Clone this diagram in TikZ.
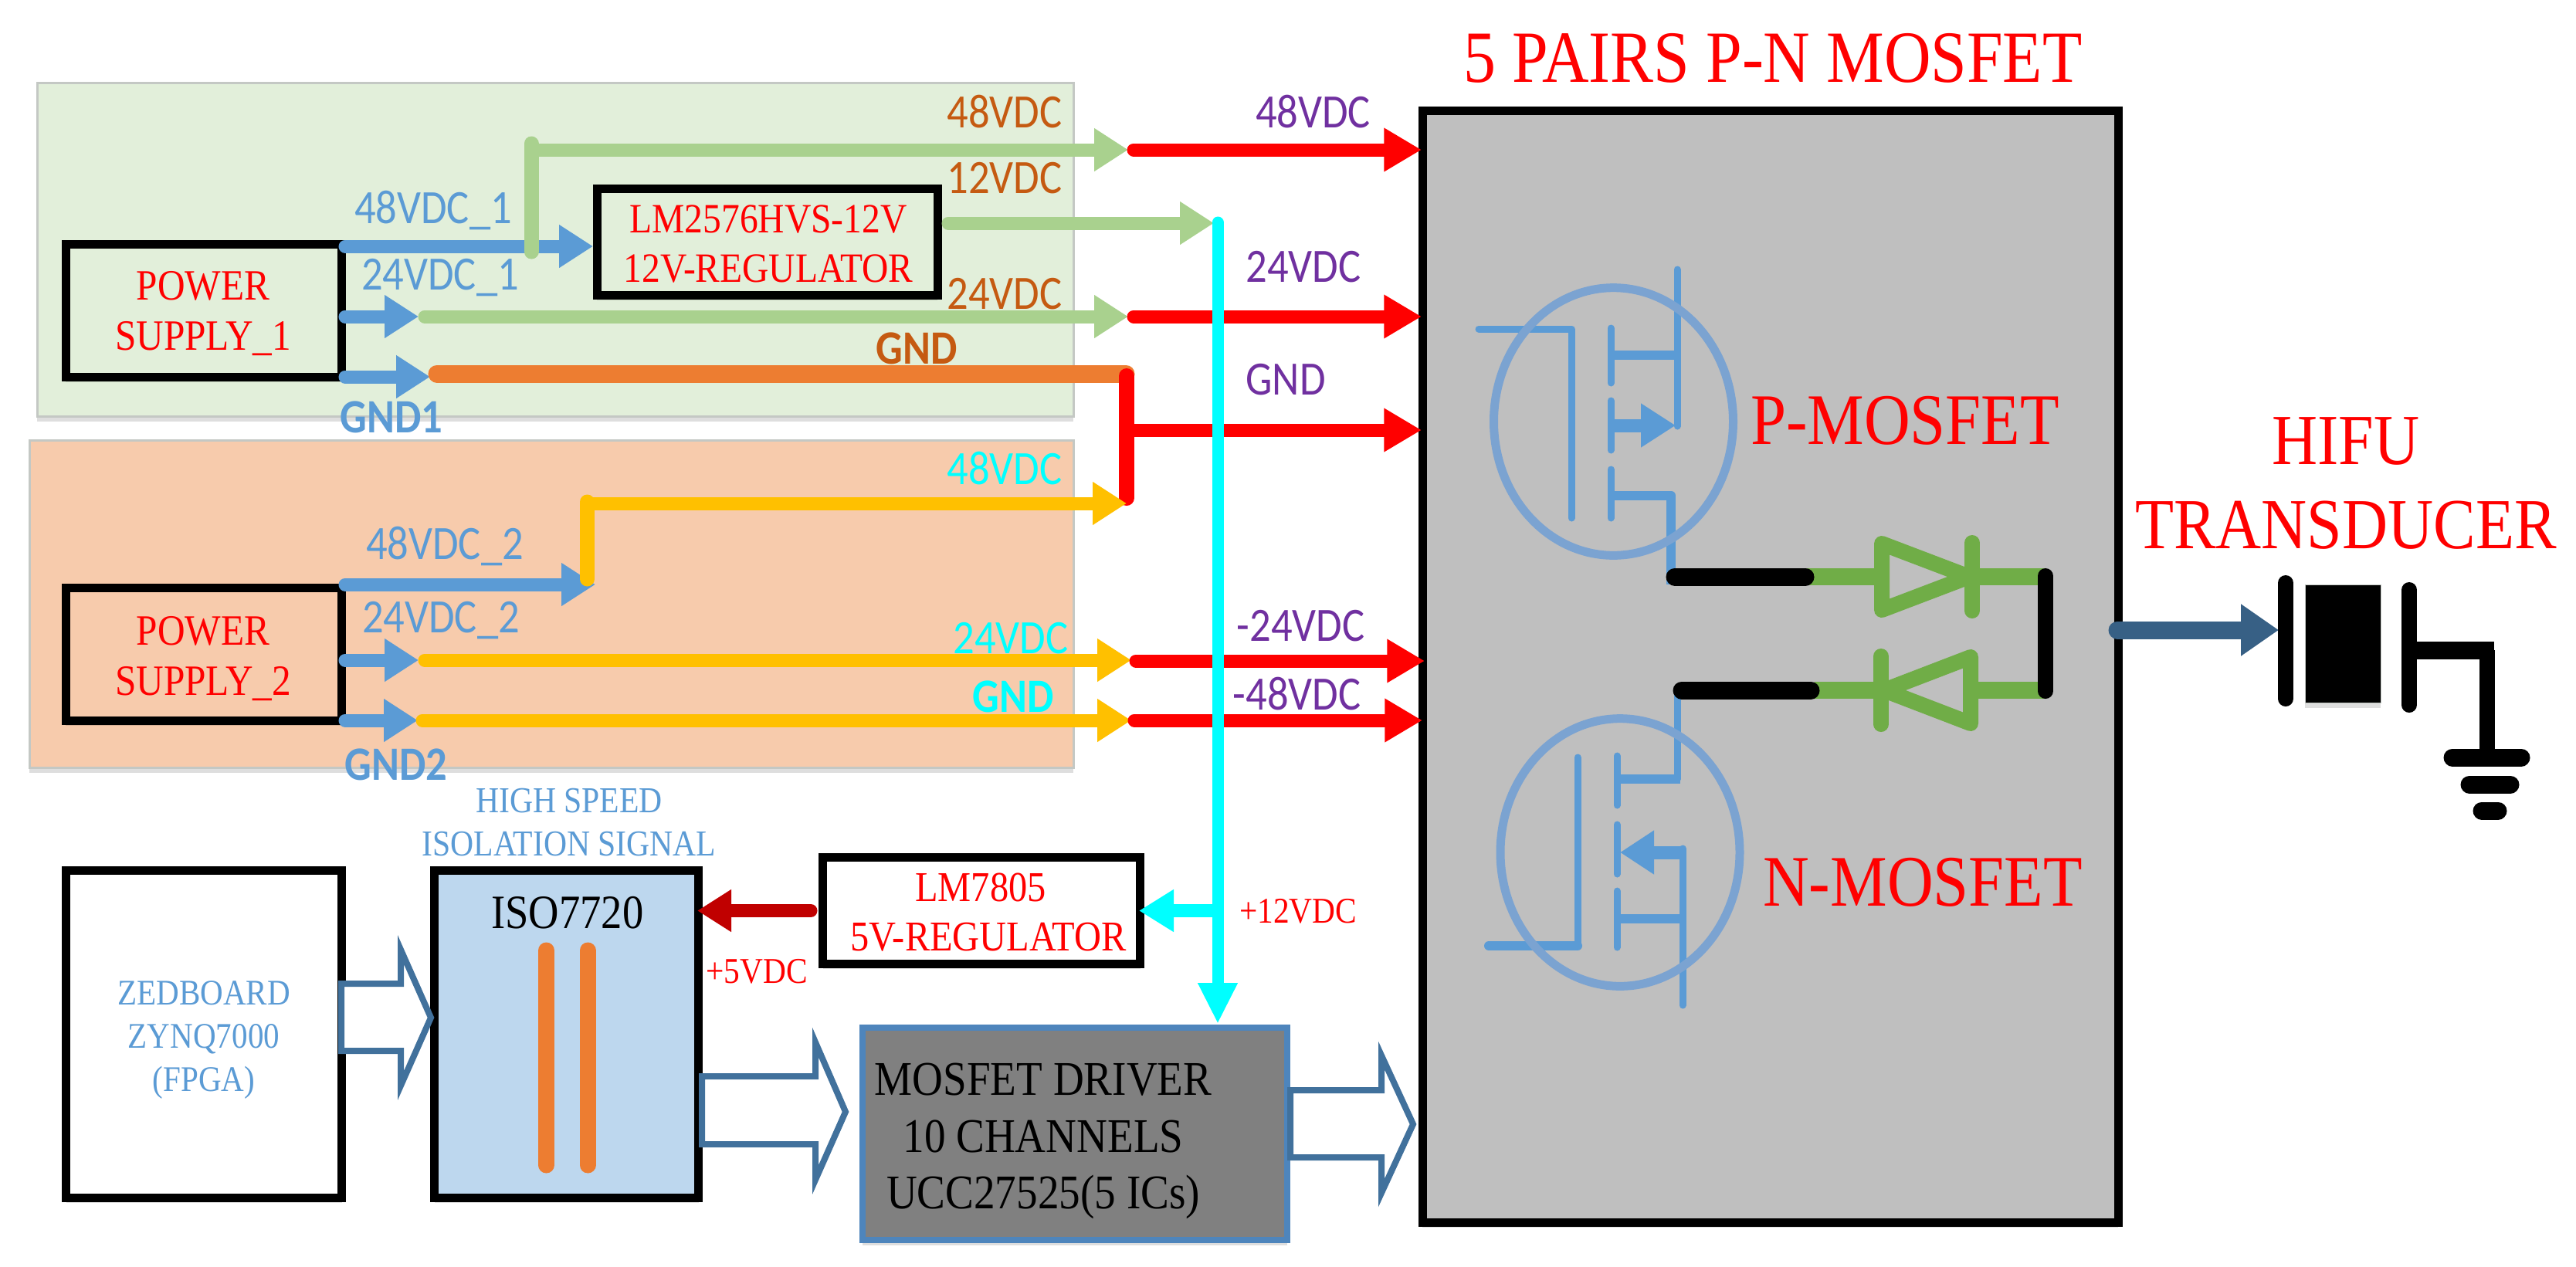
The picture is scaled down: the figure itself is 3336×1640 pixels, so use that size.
\documentclass[tikz,border=0pt]{standalone}
\usepackage{fontspec}
\setmainfont{Liberation Serif}
\newfontfamily\crl{Carlito}
\usetikzlibrary{arrows.meta,shadows,shapes.geometric}
\definecolor{cblue}{HTML}{5B9BD5}
\definecolor{cgreen}{HTML}{A9D18E}
\definecolor{dgreen}{HTML}{70AD47}
\definecolor{corange}{HTML}{ED7D31}
\definecolor{cyellow}{HTML}{FFC000}
\definecolor{pgreen}{HTML}{E2EFDA}
\definecolor{porange}{HTML}{F7CBAC}
\definecolor{pborder}{HTML}{C4C8C4}
\definecolor{cbrown}{HTML}{C55A11}
\definecolor{cpurple}{HTML}{7030A0}
\definecolor{steel}{HTML}{41719C}
\definecolor{fetring}{HTML}{7BA3D1}
\definecolor{isofill}{HTML}{BDD7EE}
\definecolor{drvborder}{HTML}{4E85BC}
\definecolor{ccyan}{HTML}{00FFFF}
\definecolor{cred}{HTML}{FF0000}
\definecolor{dred}{HTML}{C00000}
\def\u{0.3pt}
\tikzset{
  shad/.style={drop shadow={shadow xshift=0pt,shadow yshift=-2pt,fill=black,opacity=.13}},
  panel/.style={draw=pborder,line width=3*\u,inner sep=0pt,shad},
  box/.style={draw=black,line width=11*\u,inner sep=0pt,shad},
  txt/.style={xscale=.88,transform shape,inner sep=0pt,anchor=base,yshift={-0.33*#1pt},
    font=\fontsize{#1pt}{#1pt}\selectfont},
  ctxt/.style={xscale=.88,transform shape,inner sep=0pt,anchor=base,yshift={-0.32*#1pt},
    font=\crl\fontsize{#1pt}{#1pt}\selectfont},
  btxt/.style={xscale=.88,transform shape,inner sep=0pt,anchor=base,yshift={-0.32*#1pt},
    font=\crl\bfseries\fontsize{#1pt}{#1pt}\selectfont},
  mtxt/.style 2 args={xscale=.88,transform shape,inner sep=0pt,align=center,
    font=\fontsize{#1pt}{#2pt}\selectfont},
  harr/.style={line cap=round,line width=17*\u,-{Triangle[length=13.2pt,width=15.9pt]}},
  rarr/.style={line cap=round,line width=17*\u,cred,-{Triangle[length=14.6pt,width=16pt]}},
  trunk/.style={line cap=round,line width=19*\u},
  hollow/.style={draw=steel,fill=white,line width=8*\u,line join=miter},
  fet/.style={cblue,line width=9*\u,line cap=round},
  fetb/.style={cblue,line width=12*\u,line cap=round},
  ring/.style={ellipse,draw=fetring,line width=11*\u,inner sep=0pt,minimum width=93pt,minimum height=104pt},
  dio/.style={dgreen,line width=20*\u,line cap=round,line join=round},
  dio2/.style={dgreen,line width=22*\u},
  blk/.style={black,line width=23*\u,line cap=round},
  blk2/.style={black,line width=20*\u,line cap=round},
}
\begin{document}
\begin{tikzpicture}[x=0.3pt,y=-0.3pt]
\useasboundingbox (0,0) rectangle (3336,1640);
\fill[white] (0,0) rectangle (3336,1640);

% panels
\node (pan1) [panel,fill=pgreen,minimum width=1342*\u,minimum height=432*\u] at (719,323.5) {};
\node (pan2) [panel,fill=porange,minimum width=1352*\u,minimum height=424*\u] at (714,782) {};

% boxes
\node (ps1) [box,fill=pgreen,minimum width=357*\u,minimum height=172*\u] at (263.5,402) {};
\node (ps2) [box,fill=porange,minimum width=357*\u,minimum height=172*\u] at (263.5,847) {};
\node (reg12) [box,fill=pgreen,minimum width=441*\u,minimum height=138*\u] at (993.5,313) {};
\node (zed) [box,fill=white,minimum width=357*\u,minimum height=424*\u] at (264,1339.5) {};
\node (iso) [box,fill=isofill,minimum width=342*\u,minimum height=424*\u] at (733.5,1339.5) {};
\node (reg5) [box,fill=white,minimum width=411*\u,minimum height=138*\u] at (1271,1179.5) {};
\node (drv) [draw=drvborder,line width=8*\u,fill=black!50,inner sep=0pt,shad,minimum width=550*\u,minimum height=275*\u] at (1392,1468.5) {};
\node (mos) [box,fill=black!25,minimum width=901*\u,minimum height=1440*\u] at (2292.5,863) {};

% coordinates of the power rails
\coordinate (a1s) at (447,319);   \coordinate (a1e) at (768,319);
\coordinate (g48t) at (688,186);  \coordinate (g48b) at (688,326);
\coordinate (g48s) at (688,194);  \coordinate (g48e) at (1461,194);
\coordinate (g12s) at (1228,289); \coordinate (g12e) at (1572,289);
\coordinate (a2s) at (447,410);   \coordinate (a2e) at (542,410);
\coordinate (g24s) at (550,410);  \coordinate (g24e) at (1461,410);
\coordinate (a3s) at (447,488);   \coordinate (a3e) at (557,488);
\coordinate (ors) at (566,484);   \coordinate (ore) at (1458,484);
\coordinate (b1s) at (447,757);   \coordinate (b1e) at (771,757);
\coordinate (y48t) at (760.5,650);\coordinate (y48b) at (760.5,750);
\coordinate (y48s) at (760.5,652);\coordinate (y48e) at (1459,652);
\coordinate (b2s) at (447,855);   \coordinate (b2e) at (542,855);
\coordinate (y24s) at (550,855);  \coordinate (y24e) at (1465,855);
\coordinate (b3s) at (447,933);   \coordinate (b3e) at (541,933);
\coordinate (ygs) at (547,933);   \coordinate (yge) at (1465,933);
\coordinate (rv1) at (1459,487);  \coordinate (rv2) at (1459,645);
\coordinate (rj) at (1459,557);   \coordinate (rje) at (1841,557);
\coordinate (r48s) at (1468,194); \coordinate (r48e) at (1841,194);
\coordinate (r24s) at (1468,410); \coordinate (r24e) at (1841,410);
\coordinate (rm24s) at (1471,856);\coordinate (rm24e) at (1845,856);
\coordinate (rm48s) at (1469,933);\coordinate (rm48e) at (1842,933);
\coordinate (cy1) at (1577,288);  \coordinate (cy2) at (1577,1326);
\coordinate (cyj) at (1577,1179.5);\coordinate (cyl) at (1475,1179.5);
\coordinate (drs) at (1050,1179.5);\coordinate (dre) at (903,1179.5);

% blue feeds
\draw[harr,cblue] (a1s) -- (a1e);
\draw[harr,cblue] (a2s) -- (a2e);
\draw[harr,cblue] (a3s) -- (a3e);
\draw[harr,cblue] (b1s) -- (b1e);
\draw[harr,cblue] (b2s) -- (b2e);
\draw[harr,cblue] (b3s) -- (b3e);
% green
\draw[trunk,cgreen] (g48t) -- (g48b);
\draw[harr,cgreen,line cap=butt] (g48s) -- (g48e);
\draw[harr,cgreen] (g12s) -- (g12e);
\draw[harr,cgreen] (g24s) -- (g24e);
% orange + red elbow
\draw[corange,line width=23*\u,line cap=round] (ors) -- (ore);
\draw[trunk,cred,line width=20*\u] (rv1) -- (rv2);
\draw[rarr,line cap=butt] (rj) -- (rje);
% yellow
\draw[trunk,cyellow] (y48t) -- (y48b);
\draw[harr,cyellow,line cap=butt] (y48s) -- (y48e);
\draw[harr,cyellow] (y24s) -- (y24e);
\draw[harr,cyellow] (ygs) -- (yge);
% red rails
\draw[rarr] (r48s) -- (r48e);
\draw[rarr] (r24s) -- (r24e);
\draw[rarr] (rm24s) -- (rm24e);
\draw[rarr] (rm48s) -- (rm48e);
% cyan bus
\draw[ccyan,line width=15*\u,line cap=round,-{Triangle[length=15.9pt,width=14.4pt]}] (cy1) -- (cy2);
\draw[ccyan,line width=17*\u,-{Triangle[length=13.5pt,width=15.6pt]}] (cyj) -- (cyl);
\draw[line width=17*\u,dred,line cap=round,-{Triangle[length=13.2pt,width=15.6pt]}] (drs) -- (dre);

% isolation barrier
\coordinate (b1t) at (707.5,1231); \coordinate (b1b) at (707.5,1509);
\coordinate (b2t) at (761,1231);   \coordinate (b2b) at (761,1509);
\draw[corange,line width=21*\u,line cap=round] (b1t) -- (b1b);
\draw[corange,line width=21*\u,line cap=round] (b2t) -- (b2b);

% hollow arrows
\draw[hollow] (442,1274) -- (519,1274) -- (519,1230) -- (558,1318) -- (519,1406) -- (519,1361) -- (442,1361) -- cycle;
\draw[hollow] (909,1394) -- (1056,1394) -- (1056,1350) -- (1095,1440) -- (1056,1528) -- (1056,1482) -- (909,1482) -- cycle;
\draw[hollow] (1671,1412) -- (1789,1412) -- (1789,1367) -- (1830,1456) -- (1789,1545) -- (1789,1499) -- (1671,1499) -- cycle;

% P-MOSFET
\coordinate (pg1) at (1915,426); \coordinate (pg2) at (2035,426); \coordinate (pg3) at (2035,671);
\draw[fet,line join=round] (pg1) -- (pg2) -- (pg3);
\draw[fet] (2086,425) -- (2086,496);
\draw[fet] (2086,519) -- (2086,583);
\draw[fet] (2086,608) -- (2086,671);
\draw[fet] (2172,349) -- (2172,552);
\draw[fetb,line cap=butt] (2086,460) -- (2172,460);
\draw[cblue,line width=17*\u,-{Triangle[length=13.5pt,width=16.2pt]}] (2086,551) -- (2170,551);
\draw[fet,line width=12*\u,line join=round,line cap=butt] (2086,641.5) -- (2164,641.5) -- (2164,757);
\node (pfet) [ring] at (2089.5,546) {};

% N-MOSFET
\draw[fet,line join=round] (1928,1225) -- (2043,1225) -- (2043,981);
\draw[fetb,line cap=round] (1928,1225) -- (2043,1225);
\draw[fet] (2094,979) -- (2094,1043);
\draw[fet] (2094,1068) -- (2094,1132);
\draw[fet] (2094,1154) -- (2094,1227);
\draw[fet] (2172,900) -- (2172,1009);
\draw[fetb,line cap=butt] (2094,1009) -- (2176,1009);
\draw[fet] (2179,1099) -- (2179,1302);
\draw[cblue,line width=17*\u,-{Triangle[length=13.2pt,width=16.2pt]}] (2179,1104) -- (2098,1104);
\draw[fetb,line cap=butt] (2094,1190) -- (2183,1190);
\node (nfet) [ring] at (2098,1104) {};

% diodes
\draw[dio2] (2340,747) -- (2437,747);
\draw[dio2] (2554,747) -- (2648,747);
\draw[dio] (2437,704) -- (2550,747) -- (2437,790) -- cycle;
\draw[dio] (2554,703) -- (2554,791);
\draw[dio2] (2350,894) -- (2436,894);
\draw[dio2] (2552,894) -- (2648,894);
\draw[dio] (2552,851) -- (2440,894) -- (2552,937) -- cycle;
\draw[dio] (2436,850) -- (2436,938);
\draw[blk] (2169,747) -- (2338,747);
\draw[blk] (2178,894) -- (2345,894);
\draw[blk2] (2649,746) -- (2649,895);

% transducer
\coordinate (ts) at (2742,816); \coordinate (te) at (2951,816);
\draw[line width=23*\u,color=steel!85!black,line cap=round,-{Triangle[length=14.7pt,width=19.2pt]}] (ts) -- (te);
\draw[blk2] (2960,755) -- (2960,905);
\node (pzt) [fill=black,draw=pborder,line width=1*\u,inner sep=0pt,minimum width=98*\u,minimum height=153*\u,shad] at (3034,833.5) {};
\draw[blk2] (3120,764) -- (3120,913);
\draw[black,line width=23*\u] (3120,842) -- (3230,842);
\draw[black,line width=20*\u] (3220.5,842) -- (3220.5,981);
\draw[blk] (3176,981) -- (3265,981);
\draw[blk] (3198,1016) -- (3251,1016);
\draw[blk] (3214,1050) -- (3235,1050);

% texts
\node (t5p) [txt=28.6,cred] at (2296,75) {5 PAIRS P-N MOSFET};
\node (tp) [txt=28.2,cred] at (2467,544) {P-MOSFET};
\node (tn) [txt=28.2,cred] at (2490,1142) {N-MOSFET};
\node (thifu) [mtxt={27.9}{32.7},cred] at (3038,626) {HIFU\\TRANSDUCER};
\node (tps1) [mtxt={16.8}{19.35},cred] at (263,406) {POWER\\SUPPLY\_1};
\node (tps2) [mtxt={16.8}{19.35},cred] at (263,853) {POWER\\SUPPLY\_2};
\node (treg12) [mtxt={16.2}{19.35},cred] at (995,316) {LM2576HVS-12V\\12V-REGULATOR};
\node (treg5) [mtxt={16.5}{19.2},cred] at (1280,1182) {LM7805\hspace*{6.8pt}\\5V-REGULATOR};
\node (thigh) [mtxt={14.2}{16.6},cblue] at (737,1065) {HIGH SPEED\\ISOLATION SIGNAL};
\node (tzed) [mtxt={14}{16.7},cblue] at (264,1347) {ZEDBOARD\\ZYNQ7000\\(FPGA)};
\node (tiso) [txt=18.6] at (735,1182) {ISO7720};
\node (tdrv) [mtxt={18.8}{22},black] at (1351,1478) {MOSFET DRIVER\\10 CHANNELS\\UCC27525(5 ICs)};
\node (t5v) [txt=14.1,cred] at (980,1258) {+5VDC};
\node (t12v) [txt=14.1,cred] at (1681,1180) {+12VDC};

\node (l1) [ctxt=18.6,cblue] at (561,269.5) {48VDC\_1};
\node (l2) [ctxt=18.6,cblue] at (570,356) {24VDC\_1};
\node (l3) [ctxt=18.6,cblue] at (576,705) {48VDC\_2};
\node (l4) [ctxt=18.6,cblue] at (571,800) {24VDC\_2};
\node (l5) [btxt=18.6,cblue] at (507,541) {GND1};
\node (l6) [btxt=18.6,cblue] at (513,991) {GND2};
\node (l7) [ctxt=18.6,cbrown] at (1301,146) {48VDC};
\node (l8) [ctxt=18.6,cbrown] at (1301,231) {12VDC};
\node (l9) [ctxt=18.6,cbrown] at (1301,381) {24VDC};
\node (l10) [btxt=18.6,cbrown] at (1187,452) {GND};
\node (l11) [ctxt=18.6,ccyan] at (1301,608) {48VDC};
\node (l12) [ctxt=18.6,ccyan] at (1309,826.5) {24VDC};
\node (l13) [btxt=18.6,ccyan] at (1312.5,903) {GND};
\node (l14) [ctxt=18.6,cpurple] at (1700.5,145.5) {48VDC};
\node (l15) [ctxt=18.6,cpurple] at (1688,346) {24VDC};
\node (l16) [ctxt=18.6,cpurple] at (1665,492) {GND};
\node (l17) [ctxt=18.6,cpurple] at (1684.5,810.5) {-24VDC};
\node (l18) [ctxt=18.6,cpurple] at (1679.5,900) {-48VDC};
\end{tikzpicture}
\end{document}
